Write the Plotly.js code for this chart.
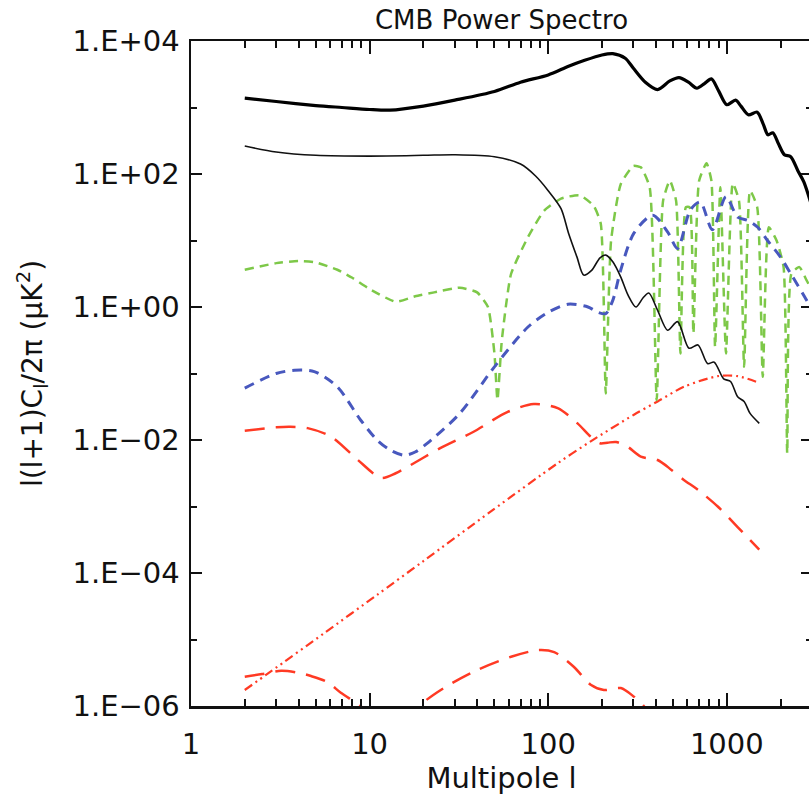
<!DOCTYPE html>
<html>
<head>
<meta charset="utf-8">
<script src="https://cdn.plot.ly/plotly-3.0.1.min.js"></script>
<style>
html,body{margin:0;padding:0;overflow:hidden;background:#fff;}
#chart{width:830px;height:797px;}
</style>
</head>
<body>
<div id="chart"></div>
<script>
// ---- Data (multipole l, l(l+1)Cl/2pi in uK^2) ----
var ttL = [2,3,5,7,10,13,20,30,50,70,100,130,160,200,230,270,300,350,410,480,540,610,680,750,820,900,1000,1120,1200,1320,1480,1600,1700,1810,1950,2100,2280,2500,2700,3000];
var ttV = [1380,1230,1070,1000,933,912,1050,1290,1740,2400,3090,4170,5130,6170,6460,5500,3890,2400,1860,2510,2820,2400,1950,2290,2690,1780,1100,1290,1050,776,851,562,389,417,282,195,182,112,76,32];

var tensL = [2,3,5,10,20,30,50,70,85,100,118,130,145,158,175,195,210,230,255,280,310,340,366,410,466,530,614,690,780,850,960,1050,1150,1250,1350,1520];
var tensV = [263,214,191,186,191,195,182,141,93.3,56.2,30.2,12.9,5.62,3.02,3.55,5.5,6.03,4.79,2.82,1.51,1.0,1.38,1.62,0.89,0.447,0.603,0.24,0.269,0.141,0.148,0.0832,0.0759,0.0447,0.038,0.0251,0.0178];

var teL = [2,3,4,5,6.6,8,10,14,18,23,32,40,46,50,52,55,62,77,95,118,150,180,197,210,225,255,300,330,370,405,440,480,520,550,590,620,650,700,770,820,860,920,990,1080,1170,1250,1350,1480,1590,1720,1900,2080,2180,2300,2550,2800,3000];
var teV = [3.63,4.57,4.9,4.68,3.63,2.75,1.86,1.2,1.45,1.66,1.95,1.66,1.0,0.2,0.04,0.316,3.16,11.2,28.2,42.7,47.9,33.1,17.8,0.05,10,70.8,132,126,63.1,0.04,39.8,79.4,39.8,0.2,31.6,31.6,0.4,79.4,145,79.4,0.25,63.1,0.2,72.4,39.8,0.126,56.2,31.6,0.089,15.8,10,3.98,0.0063,3.16,3.98,2.51,1.78];

var eeL = [2,3,3.8,4.9,6.6,8.9,11,13,15.6,18,21,32,50,77,100,129,167,190,210,230,255,302,385,466,530,625,710,830,990,1150,1310,1490,1690,2000,2270,2800,3000];
var eeV = [0.0603,0.1,0.112,0.107,0.063,0.02,0.01,0.00708,0.00589,0.0066,0.00891,0.0251,0.126,0.5,0.832,1.1,1.0,0.832,0.794,1.26,3.63,12.9,24,13.5,7.59,28.8,38,14.5,45.7,22.4,20,15.8,10,5.62,3.24,1.26,0.89];

var bbL = [2,3,3.6,4.5,6.1,8.6,11.6,14,16.4,25,38,59,83,113,146,173,195,215,240,278,330,410,490,575,690,890,1150,1520];
var bbV = [0.0138,0.0155,0.0158,0.0151,0.0112,0.005,0.00269,0.00316,0.00398,0.00759,0.0132,0.0263,0.0347,0.0302,0.0178,0.0112,0.00891,0.00912,0.00933,0.00794,0.00562,0.005,0.00355,0.00251,0.00178,0.001,0.00049,0.000224];

var lensL = [2,2.8,5.6,11,20,48,113,173,302,410,575,890,1150,1520];
var lensV = [1.74e-6,3.31e-6,1.26e-5,4.68e-5,1.51e-4,8.51e-4,4.47e-3,9.55e-3,0.024,0.038,0.063,0.0912,0.0912,0.0724];

var bbLowL = [2,2.5,3.2,4,4.7,5.8,6.9,8.9,10,13,16,19,26,40,62,88,108,139,173,205,255,302,343,400,450];
var bbLowV = [2.75e-6,3.02e-6,3.39e-6,3.16e-6,2.82e-6,2.29e-6,1.58e-6,1e-6,7.08e-7,3.98e-7,5.01e-7,1e-6,1.86e-6,3.47e-6,5.5e-6,6.92e-6,6.46e-6,3.89e-6,2.09e-6,1.74e-6,1.86e-6,1.38e-6,1e-6,5.62e-7,3.16e-7];

var xTickVals = [1,10,100,1000];
var xTickText = ['1','10','100','1000'];
var xMinor = [2,3,4,5,6,7,8,9,20,30,40,50,60,70,80,90,200,300,400,500,600,700,800,900,2000,3000];
var yTickVals = [1e-6,1e-4,1e-2,1,1e2,1e4];
var yTickText = ['1.E\u221206','1.E\u221204','1.E\u221202','1.E+00','1.E+02','1.E+04'];
var yMinor = [1e-5,1e-3,1e-1,1e1,1e3];

var GREEN = 'rgb(125,200,72)', BLUE = 'rgb(72,88,190)', RED = 'rgb(255,58,36)';
var sp = {shape:'spline', smoothing:0.8};

var traces = [
  {x:lensL, y:lensV, mode:'lines', line:Object.assign({color:RED, width:2.2, dash:'9px,4px,2px,4px,2px,4px'}, sp)},
  {x:bbLowL, y:bbLowV, mode:'lines', line:Object.assign({color:RED, width:2.5, dash:'20px,11px'}, sp)},
  {x:bbL, y:bbV, mode:'lines', line:Object.assign({color:RED, width:2.5, dash:'20px,11px'}, sp)},
  {x:teL, y:teV, mode:'lines', line:{color:GREEN, width:2.5, dash:'9px,6px', shape:'spline', smoothing:0.5}},
  {x:eeL, y:eeV, mode:'lines', line:Object.assign({color:BLUE, width:3, dash:'10px,7px'}, sp)},
  {x:tensL, y:tensV, mode:'lines', line:Object.assign({color:'#111', width:1.6}, sp)},
  {x:ttL, y:ttV, mode:'lines', line:Object.assign({color:'#000', width:3.2}, sp)}
];

var font = 'DejaVu Sans, Verdana, sans-serif';
var layout = {
  width:830, height:797,
  margin:{l:191, r:18, t:41, b:91},
  showlegend:false,
  paper_bgcolor:'#fff', plot_bgcolor:'#fff',
  font:{family:font, color:'#111'},
  title:{text:'CMB Power Spectro', font:{family:font, size:26, color:'#111'}, x:0.5, xref:'paper', xanchor:'center', y:0.975, yref:'container', yanchor:'middle'},
  xaxis:{
    type:'log', range:[0, Math.log10(3000)],
    tickmode:'array', tickvals:xTickVals, ticktext:xTickText,
    ticks:'inside', ticklen:13, tickwidth:2, tickcolor:'#111',
    minor:{tickmode:'array', tickvals:xMinor, ticks:'inside', ticklen:7, tickwidth:2, tickcolor:'#111', showgrid:false},
    showline:true, linewidth:2.5, linecolor:'#111', mirror:'ticks',
    showgrid:false, zeroline:false,
    tickfont:{size:29, family:font, color:'#111'},
    ticklabelstandoff:11,
    title:{text:'Multipole l', font:{size:29, family:font, color:'#111'}, standoff:6}
  },
  yaxis:{
    type:'log', range:[-6, 4],
    tickmode:'array', tickvals:yTickVals, ticktext:yTickText,
    ticks:'inside', ticklen:11, tickwidth:2, tickcolor:'#111',
    minor:{tickmode:'array', tickvals:yMinor, ticks:'inside', ticklen:6, tickwidth:2, tickcolor:'#111', showgrid:false},
    showline:true, linewidth:2.5, linecolor:'#111', mirror:'ticks',
    showgrid:false, zeroline:false,
    tickfont:{size:29, family:font, color:'#111'},
    ticklabelstandoff:3,
    title:{text:'l(l+1)C<sub>l</sub>/2\u03c0 (\u03bcK<sup>2</sup>)', font:{size:28, family:font, color:'#111'}, standoff:22}
  }
};

Plotly.newPlot('chart', traces, layout, {staticPlot:true, displayModeBar:false});
</script>
</body>
</html>
